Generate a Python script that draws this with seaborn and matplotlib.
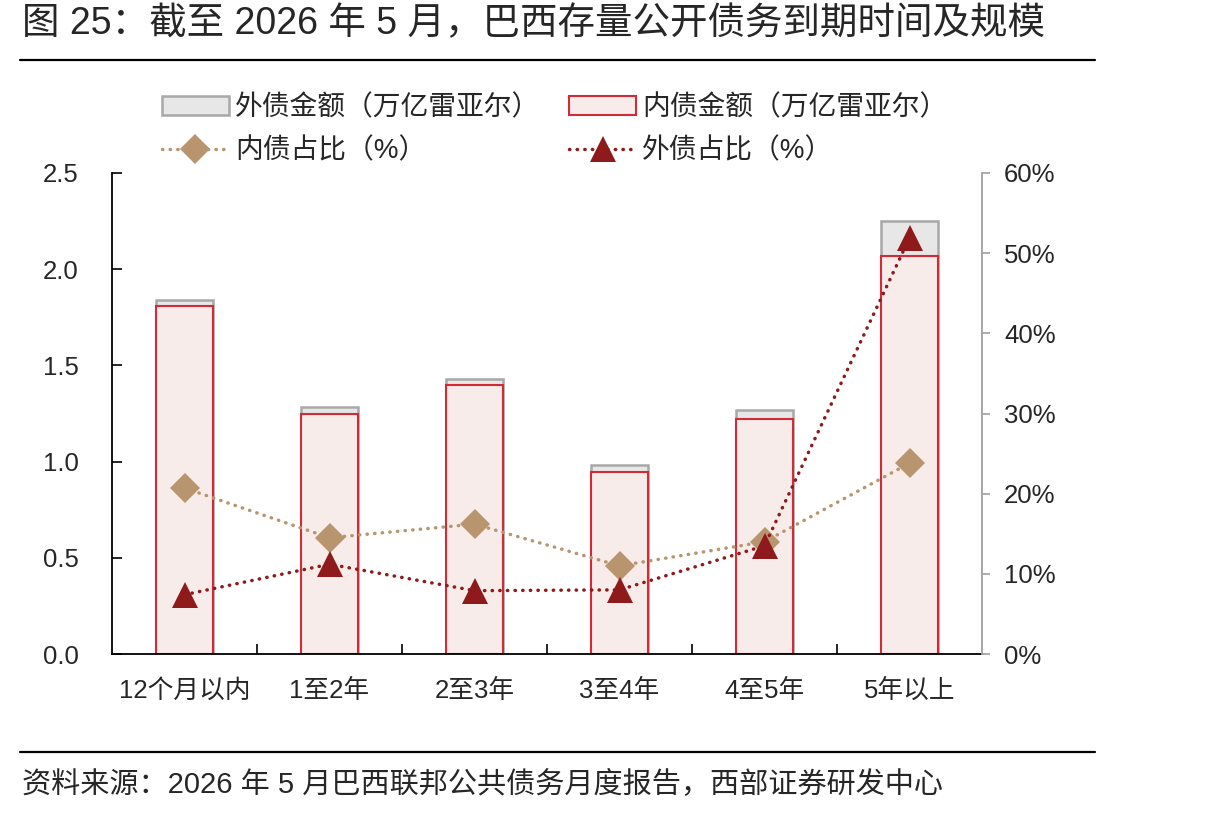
import numpy as np
import pandas as pd
import matplotlib
matplotlib.use("Agg")
import matplotlib.pyplot as plt
import seaborn as sns
from matplotlib.lines import Line2D
from matplotlib.patches import Patch
from matplotlib.ticker import FuncFormatter, FixedLocator

# ---------------- data ----------------
categories = ["12个月以内", "1至2年", "2至3年", "3至4年", "4至5年", "5年以上"]
domestic_amt = [1.81, 1.25, 1.40, 0.945, 1.22, 2.07]     # 内债金额（万亿雷亚尔）
external_amt = [0.03, 0.035, 0.03, 0.035, 0.05, 0.18]    # 外债金额（万亿雷亚尔）
domestic_pct = [20.7, 14.5, 16.2, 11.0, 14.0, 23.8]      # 内债占比（%）
external_pct = [7.4, 11.2, 7.9, 8.0, 13.5, 51.9]         # 外债占比（%）
left_ticks = [0.0, 0.5, 1.0, 1.5, 2.0, 2.5]
right_ticks = [0, 10, 20, 30, 40, 50, 60]

title = "图 25：截至 2026 年 5 月，巴西存量公开债务到期时间及规模"
source = "资料来源：2026 年 5 月巴西联邦公共债务月度报告，西部证券研发中心"
lab_ext_amt = "外债金额（万亿雷亚尔）"
lab_dom_amt = "内债金额（万亿雷亚尔）"
lab_dom_pct = "内债占比（%）"
lab_ext_pct = "外债占比（%）"

# ---------------- style ----------------
sns.set_theme(style="white")
plt.rcParams["font.family"] = ["Liberation Sans", "Noto Sans CJK SC"]
plt.rcParams["axes.unicode_minus"] = False

C_DOM_FILL = "#F8ECEA"
C_DOM_EDGE = "#D42A35"
C_EXT_FILL = "#E7E7E7"
C_EXT_EDGE = "#A8A8A8"
C_DOM_LINE = "#B8956E"
C_EXT_LINE = "#8E1A1C"

W, H = 1215, 817
fig = plt.figure(figsize=(W / 100, H / 100), dpi=100)
ax = fig.add_axes([112 / W, 1 - 654 / H, (982 - 112) / W, (654 - 173) / H])

df = pd.DataFrame({
    "cat": categories,
    "dom": domestic_amt,
    "ext": external_amt,
})
df["total"] = df["dom"] + df["ext"]

# total bar (external on top) then domestic overlaid from zero
sns.barplot(data=df, x="cat", y="total", ax=ax, color=C_EXT_FILL, saturation=1,
            edgecolor=C_EXT_EDGE, linewidth=1.8, width=0.39, errorbar=None)
sns.barplot(data=df, x="cat", y="dom", ax=ax, color=C_DOM_FILL, saturation=1,
            edgecolor=C_DOM_EDGE, linewidth=1.5, width=0.39, errorbar=None)

ax.set_xlabel("")
ax.set_ylabel("")
ax.set_xlim(-0.5, len(categories) - 0.5)
ax.set_ylim(left_ticks[0], left_ticks[-1])
ax.set_yticks(left_ticks)
ax.yaxis.set_major_formatter(FuncFormatter(lambda v, p: f"{v:.1f}"))
ax.tick_params(axis="y", direction="in", length=7, width=1.2, color="black",
               labelsize=18.5, pad=24, left=True, right=False)
ax.tick_params(axis="x", which="major", length=0, labelsize=18.5, pad=18)
ax.xaxis.set_minor_locator(FixedLocator(np.arange(0.5, len(categories) - 0.5, 1.0)))
ax.tick_params(axis="x", which="minor", direction="in", length=7, width=1.2,
               color="black", bottom=True)
for s in ["top", "right"]:
    ax.spines[s].set_visible(False)
for s in ["left", "bottom"]:
    ax.spines[s].set_color("black")
    ax.spines[s].set_linewidth(1.3)

# ---------------- share lines on right axis ----------------
ax2 = ax.twinx()
pos = np.arange(len(categories))
LW = 2.5
ls = (0, (0.1, 2.1))
sns.lineplot(x=pos, y=domestic_pct, ax=ax2, color=C_DOM_LINE, linewidth=LW,
             linestyle=ls, dash_capstyle="round", marker="D", markersize=15,
             markeredgewidth=0, markerfacecolor=C_DOM_LINE)
sns.lineplot(x=pos, y=external_pct, ax=ax2, color=C_EXT_LINE, linewidth=LW,
             linestyle=ls, dash_capstyle="round", marker="^", markersize=18.5,
             markeredgewidth=0, markerfacecolor=C_EXT_LINE)
ax2.set_ylim(right_ticks[0], right_ticks[-1])
ax2.set_yticks(right_ticks)
ax2.yaxis.set_major_formatter(FuncFormatter(lambda v, p: f"{v:.0f}%"))
ax2.tick_params(axis="y", direction="out", length=6, width=1.2, color="#A0A0A0",
                labelsize=18.5, pad=10, right=True, left=False)
for s in ["top", "left", "bottom"]:
    ax2.spines[s].set_visible(False)
ax2.spines["right"].set_color("#A0A0A0")
ax2.spines["right"].set_linewidth(1.3)
ax2.set_xlabel("")
ax2.set_ylabel("")

# ---------------- legend ----------------
h_ext = Patch(facecolor=C_EXT_FILL, edgecolor=C_EXT_EDGE, linewidth=1.8)
h_dom = Patch(facecolor=C_DOM_FILL, edgecolor=C_DOM_EDGE, linewidth=1.5)
h_dp = Line2D([], [], color=C_DOM_LINE, linewidth=LW, linestyle=ls,
              dash_capstyle="round", marker="D", markersize=15, markeredgewidth=0)
h_ep = Line2D([], [], color=C_EXT_LINE, linewidth=LW, linestyle=ls,
              dash_capstyle="round", marker="^", markersize=18.5, markeredgewidth=0)
leg = fig.legend([h_ext, h_dp, h_dom, h_ep],
                 [lab_ext_amt, lab_dom_pct, lab_dom_amt, lab_ext_pct],
                 ncol=2, loc="upper left", bbox_to_anchor=(162 / W, 1 - 95 / H),
                 frameon=False, fontsize=20, handlelength=2.4, handleheight=0.65,
                 handletextpad=0.22, columnspacing=1.05, labelspacing=0.6,
                 numpoints=1, borderaxespad=0, borderpad=0)

# ---------------- title, rules, source ----------------
fig.text(22 / W, 1 - 24 / H, title, fontsize=27, va="center", ha="left")
fig.text(22 / W, 1 - 785 / H, source, fontsize=21, va="center", ha="left")
fig.add_artist(Line2D([20 / W, 1095 / W], [1 - 60 / H, 1 - 60 / H],
                      color="black", linewidth=1.6, transform=fig.transFigure))
fig.add_artist(Line2D([20 / W, 1095 / W], [1 - 752 / H, 1 - 752 / H],
                      color="black", linewidth=1.6, transform=fig.transFigure))

fig.savefig("out.png", dpi=100)
